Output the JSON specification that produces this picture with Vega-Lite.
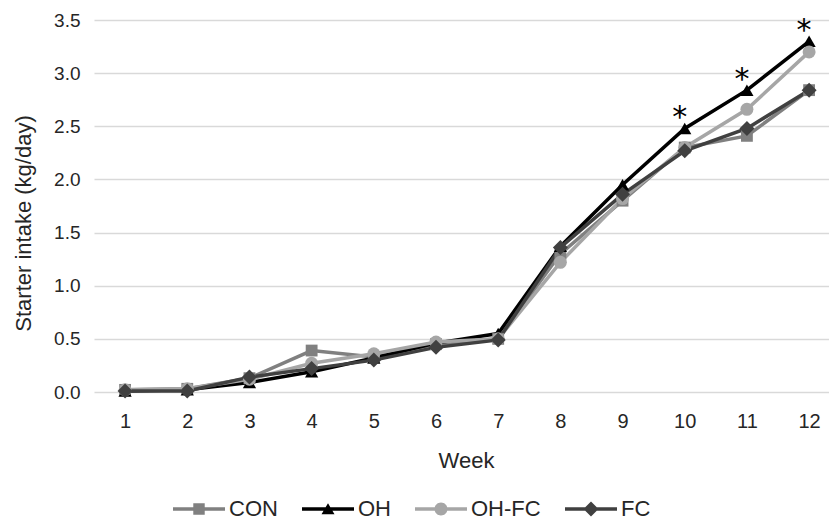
{
  "$schema": "https://vega.github.io/schema/vega-lite/v6.json",
  "width": 735,
  "height": 372,
  "autosize": {"type": "none"},
  "padding": {"left": 94, "top": 20, "right": 0, "bottom": 127},
  "background": "white",
  "config": {
    "view": {"stroke": null},
    "font": "Liberation Sans",
    "axis": {"labelFont": "Liberation Sans", "titleFont": "Liberation Sans"}
  },
  "data": {
    "values": [
      {"series": "CON", "week": 1, "intake": 0.02},
      {"series": "CON", "week": 2, "intake": 0.03},
      {"series": "CON", "week": 3, "intake": 0.13},
      {"series": "CON", "week": 4, "intake": 0.39},
      {"series": "CON", "week": 5, "intake": 0.33},
      {"series": "CON", "week": 6, "intake": 0.45},
      {"series": "CON", "week": 7, "intake": 0.50},
      {"series": "CON", "week": 8, "intake": 1.30},
      {"series": "CON", "week": 9, "intake": 1.80},
      {"series": "CON", "week": 10, "intake": 2.30},
      {"series": "CON", "week": 11, "intake": 2.41},
      {"series": "CON", "week": 12, "intake": 2.84},
      {"series": "OH", "week": 1, "intake": 0.01},
      {"series": "OH", "week": 2, "intake": 0.02},
      {"series": "OH", "week": 3, "intake": 0.09},
      {"series": "OH", "week": 4, "intake": 0.19},
      {"series": "OH", "week": 5, "intake": 0.32},
      {"series": "OH", "week": 6, "intake": 0.46},
      {"series": "OH", "week": 7, "intake": 0.55},
      {"series": "OH", "week": 8, "intake": 1.37},
      {"series": "OH", "week": 9, "intake": 1.95},
      {"series": "OH", "week": 10, "intake": 2.48, "sig": "*"},
      {"series": "OH", "week": 11, "intake": 2.84, "sig": "*"},
      {"series": "OH", "week": 12, "intake": 3.30, "sig": "*"},
      {"series": "OH-FC", "week": 1, "intake": 0.02},
      {"series": "OH-FC", "week": 2, "intake": 0.03},
      {"series": "OH-FC", "week": 3, "intake": 0.12},
      {"series": "OH-FC", "week": 4, "intake": 0.27},
      {"series": "OH-FC", "week": 5, "intake": 0.36},
      {"series": "OH-FC", "week": 6, "intake": 0.47},
      {"series": "OH-FC", "week": 7, "intake": 0.50},
      {"series": "OH-FC", "week": 8, "intake": 1.22},
      {"series": "OH-FC", "week": 9, "intake": 1.82},
      {"series": "OH-FC", "week": 10, "intake": 2.30},
      {"series": "OH-FC", "week": 11, "intake": 2.66},
      {"series": "OH-FC", "week": 12, "intake": 3.20},
      {"series": "FC", "week": 1, "intake": 0.01},
      {"series": "FC", "week": 2, "intake": 0.01},
      {"series": "FC", "week": 3, "intake": 0.14},
      {"series": "FC", "week": 4, "intake": 0.22},
      {"series": "FC", "week": 5, "intake": 0.30},
      {"series": "FC", "week": 6, "intake": 0.42},
      {"series": "FC", "week": 7, "intake": 0.49},
      {"series": "FC", "week": 8, "intake": 1.36},
      {"series": "FC", "week": 9, "intake": 1.86},
      {"series": "FC", "week": 10, "intake": 2.27},
      {"series": "FC", "week": 11, "intake": 2.48},
      {"series": "FC", "week": 12, "intake": 2.84}
    ]
  },
  "encoding": {
    "x": {
      "field": "week",
      "type": "quantitative",
      "scale": {"domain": [0.5, 12.32], "nice": false, "zero": false},
      "axis": {
        "values": [1, 2, 3, 4, 5, 6, 7, 8, 9, 10, 11, 12],
        "format": "d",
        "title": "Week",
        "grid": false,
        "domain": false,
        "ticks": false,
        "labelFlush": false,
        "labelPadding": 19,
        "labelFontSize": 20,
        "labelColor": "#262626",
        "titleFontSize": 22,
        "titleFontWeight": "normal",
        "titleColor": "#262626",
        "titleX": 372,
        "titleY": 68,
        "titleBaseline": "middle"
      }
    },
    "y": {
      "field": "intake",
      "type": "quantitative",
      "scale": {"domain": [0, 3.5], "nice": false},
      "axis": {
        "values": [0, 0.5, 1, 1.5, 2, 2.5, 3, 3.5],
        "format": ".1f",
        "title": "Starter intake (kg/day)",
        "domain": false,
        "ticks": false,
        "labelPadding": 14,
        "labelFontSize": 19,
        "labelColor": "#262626",
        "gridColor": "#d9d9d9",
        "gridWidth": 1.5,
        "titleFontSize": 22,
        "titleFontWeight": "normal",
        "titleColor": "#262626",
        "titleAngle": -90,
        "titleX": -71,
        "titleY": 203,
        "titleAlign": "center",
        "titleBaseline": "middle"
      }
    }
  },
  "layer": [
    {
      "transform": [{"filter": "datum.week < 0"}],
      "mark": {"type": "point", "filled": true, "opacity": 1},
      "encoding": {
        "color": {
          "field": "series",
          "type": "nominal",
          "scale": {"domain": ["CON", "OH", "OH-FC", "FC"], "range": ["#808080", "#000000", "#a6a6a6", "#404040"]},
          "legend": {
            "title": null,
            "orient": "none",
            "legendX": 79,
            "legendY": 463,
            "direction": "horizontal",
            "columns": 4,
            "symbolSize": 2704,
            "symbolStrokeWidth": 0,
            "labelFontSize": 22,
            "labelColor": "#262626",
            "labelFont": "Liberation Sans",
            "labelOffset": 4,
            "columnPadding": 24,
            "padding": 0
          }
        },
        "shape": {
          "field": "series",
          "type": "nominal",
          "scale": {
            "domain": ["CON", "OH", "OH-FC", "FC"],
            "range": [
              "M-1,-0.065H1V0.065H-1Z M-0.22,-0.22H0.22V0.22H-0.22Z",
              "M-1,-0.065H1V0.065H-1Z M0,-0.22L0.25,0.2H-0.25Z",
              "M-1,-0.065H1V0.065H-1Z M-0.25,0A0.25,0.25 0 1,1 0.25,0A0.25,0.25 0 1,1 -0.25,0Z",
              "M-1,-0.065H1V0.065H-1Z M0,-0.29L0.29,0L0,0.29L-0.29,0Z"
            ]
          },
          "legend": {
            "title": null,
            "orient": "none",
            "legendX": 79,
            "legendY": 463,
            "direction": "horizontal",
            "columns": 4,
            "symbolSize": 2704,
            "symbolStrokeWidth": 0,
            "labelFontSize": 22,
            "labelColor": "#262626",
            "labelFont": "Liberation Sans",
            "labelOffset": 4,
            "columnPadding": 24,
            "padding": 0
          }
        }
      }
    },
    {
      "mark": {"type": "line", "strokeWidth": 3.5},
      "encoding": {
        "color": {
          "field": "series",
          "type": "nominal",
          "scale": {"domain": ["CON", "OH", "OH-FC", "FC"], "range": ["#808080", "#000000", "#a6a6a6", "#404040"]},
          "legend": null
        }
      }
    },
    {
      "mark": {"type": "point", "filled": true, "opacity": 1, "strokeWidth": 0},
      "encoding": {
        "color": {
          "field": "series",
          "type": "nominal",
          "scale": {"domain": ["CON", "OH", "OH-FC", "FC"], "range": ["#808080", "#000000", "#a6a6a6", "#404040"]},
          "legend": null
        },
        "shape": {
          "condition": [
            {"test": "datum.series === 'CON'", "value": "square"},
            {"test": "datum.series === 'OH'", "value": "triangle-up"},
            {"test": "datum.series === 'OH-FC'", "value": "circle"}
          ],
          "value": "diamond"
        },
        "size": {
          "condition": [
            {"test": "datum.series === 'CON'", "value": 140},
            {"test": "datum.series === 'OH'", "value": 175},
            {"test": "datum.series === 'OH-FC'", "value": 169}
          ],
          "value": 225
        }
      }
    },
    {
      "transform": [{"filter": "datum.sig === '*'"}],
      "mark": {"type": "text", "fontSize": 30, "dx": -5, "dy": -1, "baseline": "alphabetic", "align": "center", "color": "#000000", "font": "DejaVu Sans"},
      "encoding": {
        "text": {"field": "sig", "type": "nominal"}
      }
    }
  ]
}
